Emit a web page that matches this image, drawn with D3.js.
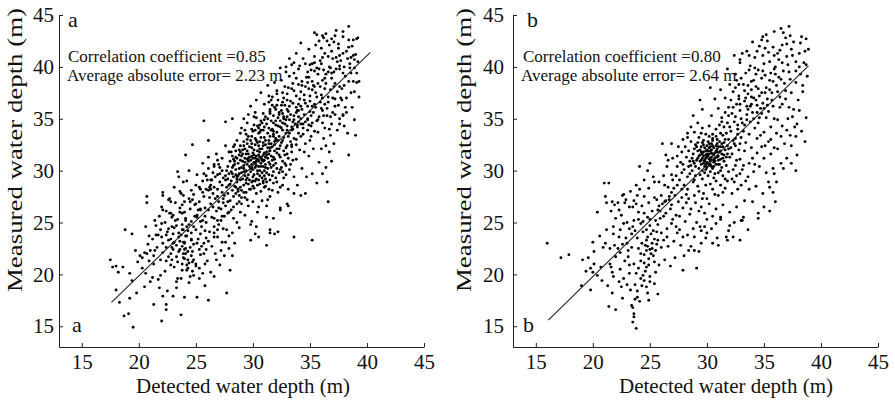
<!DOCTYPE html>
<html>
<head>
<meta charset="utf-8">
<script src="https://cdn.jsdelivr.net/npm/d3@7"></script>
<style>
body { margin: 0; background: #fff; }
svg { display: block; font-family: "Liberation Serif", "Times New Roman", serif; }
</style>
</head>
<body>
<svg id="chart" width="895" height="403"></svg>
<script>
// tick values and labels
const xTicks = [15, 20, 25, 30, 35, 40, 45];
const yTicks = [15, 20, 25, 30, 35, 40, 45];
const xTitle = "Detected water depth (m)";
const yTitle = "Measured water depth (m)";
const panelLetters = ["a", "b"];
const corrText = ["Correlation coefficient =0.85", "Correlation coefficient =0.80"];
const errText = ["Average absolute error= 2.23 m", "Average absolute error= 2.64 m"];

// fitted lines (detected, measured)
const fitA = [[17.6, 17.3], [40.3, 41.4]];
const fitB = [[16.1, 15.6], [38.9, 40.1]];

// panel a points (detected, measured)
const ptsA = [
[17.5,21.4],[17.7,20.7],[18.0,20.8],[18.6,20.7],[18.2,20.2],[18.0,18.5],[18.3,17.3],[18.7,16.0],[19.1,16.2],[19.5,14.9],
[18.8,24.3],[19.4,23.9],[19.2,20.1],[19.4,19.4],[19.2,17.7],[19.8,18.2],[19.7,22.3],[20.1,21.8],[20.3,20.6],[20.5,18.8],
[20.7,27.5],[20.7,26.9],[20.7,22.0],[21.0,22.3],[21.3,21.0],[21.2,19.7],[21.3,17.1],[22.1,27.9],[22.0,26.5],[22.1,26.2],
[20.9,23.7],[21.5,23.8],[22.0,23.6],[22.4,23.8],[22.0,15.5],[22.4,17.1],[22.4,16.6],[22.1,17.9],[21.8,18.7],[21.7,19.5],
[22.6,27.2],[22.8,27.0],[22.8,25.9],[23.1,24.5],[22.6,23.3],[23.0,23.0],[22.8,22.0],[23.3,21.7],[23.1,20.7],[23.4,19.6],
[23.3,19.3],[23.7,16.1],[23.0,17.9],[23.4,29.9],[23.5,29.4],[23.9,28.9],[23.7,27.8],[24.1,31.5],[24.7,32.5],[23.8,26.7],
[24.1,25.2],[23.8,24.3],[24.0,23.1],[23.8,22.7],[24.1,22.5],[23.9,22.0],[24.0,21.5],[23.8,21.0],[24.2,20.4],[24.5,19.8],
[24.8,19.9],[25.1,17.8],[26.1,17.5],[25.6,20.1],[25.8,21.0],[26.6,19.8],[25.7,22.0],[25.1,23.0],[25.4,23.9],[24.8,24.6],
[25.1,25.5],[25.4,26.2],[24.7,27.2],[25.3,28.4],[25.7,29.7],[25.6,30.7],[26.1,31.3],[25.7,34.8],[26.1,32.9],[26.6,30.4],
[26.9,31.0],[26.3,29.1],[26.6,28.4],[26.9,27.5],[27.0,26.4],[27.2,25.2],[26.6,24.6],[26.9,23.6],[27.3,23.1],[27.7,24.3],
[27.9,22.5],[28.2,21.8],[27.7,18.2],[28.0,20.4],[27.6,34.7],[28.2,35.0],[29.2,35.0],[28.3,32.3],[28.5,31.3],[30.1,35.2],
[30.1,34.4],[30.7,33.9],[29.8,23.3],[30.2,23.9],[30.3,24.6],[30.5,23.6],[31.2,22.8],[31.5,24.3],[31.9,23.9],[31.8,25.4],
[31.2,25.5],[32.4,26.4],[33.0,26.8],[33.3,25.9],[33.6,23.6],[35.2,23.3],[33.6,27.8],[34.2,27.6],[34.6,27.8],[33.9,28.6],
[33.6,29.4],[35.2,29.7],[36.1,29.7],[36.5,28.9],[36.9,30.9],[36.6,27.0],[35.6,28.8],[39.0,33.4],[38.4,31.5],[37.2,35.4],
[37.9,35.4],[39.3,38.6],[39.3,37.1],[38.9,37.6],[35.6,43.1],[36.4,43.2],[37.9,43.4],[38.4,43.9],[39.1,42.7],[38.8,41.1],
[38.5,40.3],[39.2,40.5],[34.2,42.3],[33.8,41.3],[37.1,42.4],[37.5,41.8],[36.0,41.8],[36.6,41.0],[35.2,40.3],[35.6,39.9],
[34.8,39.5],[33.6,39.4],[32.9,40.0],[36.1,38.7],[37.1,39.5],[38.1,39.1],[37.6,38.1],[36.8,37.8],[36.0,37.3],[35.4,38.1],
[34.3,38.2],[33.5,38.4],[32.8,38.1],[31.7,37.1],[32.1,37.4],[32.6,36.6],[33.2,36.2],[34.2,36.2],[35.2,36.2],[36.1,35.8],
[37.2,36.2],[36.8,35.2],[35.7,34.9],[34.9,34.4],[34.0,34.7],[33.4,34.2],[31.4,36.6],[31.7,36.3],[32.3,35.4],[32.7,35.0],
[22.3,25.0],[22.9,24.6],[23.4,25.3],[23.8,24.8],[24.3,24.2],[24.6,25.1],[24.2,23.7],[23.6,23.2],[24.5,22.6],[24.1,22.0],
[24.3,21.4],[23.9,21.6],[24.6,21.8],[24.8,22.9],[25.2,23.4],[25.5,24.6],[25.9,25.0],[26.2,24.1],[25.7,23.0],[26.4,22.7],
[26.0,21.3],[25.4,21.9],[25.0,20.8],[24.7,20.3],[26.8,21.4],[27.2,22.3],[26.6,23.6],[27.0,24.8],[27.5,25.6],[26.8,26.1],
[26.3,26.8],[25.8,26.4],[25.3,27.0],[25.6,27.9],[26.1,28.1],[26.7,27.3],[27.3,27.9],[27.8,27.0],[28.1,26.2],[27.6,26.6],
[28.3,25.4],[28.6,26.8],[29.0,27.4],[28.7,28.2],[28.0,28.7],[27.4,29.3],[26.9,29.6],[26.4,29.1],[25.9,29.5],[27.1,30.3],
[27.7,30.0],[28.2,29.7],[28.6,29.4],[23.6,26.4],[23.2,26.9],[22.7,27.3],[22.4,26.1],[21.8,25.6],[21.5,24.7],[21.2,23.4],
[20.8,22.9],[21.6,22.6],[22.1,22.1],[22.6,21.7],[23.0,22.4],[22.8,20.9],[22.3,20.3],[21.9,19.9],[23.7,19.6],[24.4,19.2],
[25.3,19.6],[25.8,18.9],[26.3,20.2],[27.1,20.9],[20.3,21.6],[19.9,21.2],[20.6,20.1],[21.0,19.3],[22.5,18.4],[23.3,18.7],
[24.0,17.8],[23.0,23.9],[23.5,24.0],[24.0,26.0],[24.4,27.3],[24.9,26.7],[25.1,25.7],[24.6,28.1],[23.9,27.6],[25.6,29.0],
[26.1,30.2],[25.0,28.6],[24.2,29.0],[27.9,23.7],[28.4,23.0],[28.8,24.5],[29.3,25.7],[29.6,26.6],[29.9,25.1],[30.4,26.0],
[30.8,27.1],[31.2,26.6],[30.3,27.8],[29.7,28.2],[29.2,27.9],[31.0,28.4],[31.5,27.5],[31.8,28.8],[32.2,27.9],[32.6,28.6],
[33.1,28.2],[32.9,29.6],[32.4,30.1],[33.3,30.6],[33.8,31.1],[33.0,31.6],[34.3,30.2],[34.1,32.0],[34.6,32.6],[34.9,31.4],
[35.3,32.1],[35.1,33.3],[35.7,33.7],[36.2,33.1],[36.0,32.1],[35.8,30.8],[34.7,29.4],[36.4,30.3],[36.7,31.8],[37.1,32.6],
[37.4,33.9],[36.9,34.5],[37.6,35.0],[38.0,34.3],[38.3,33.6],[38.1,36.1],[37.8,36.8],[38.6,37.5],[38.8,38.6],[39.1,39.4],
[38.5,39.9],[38.0,38.2],[37.4,37.6],[36.6,36.6],[36.3,37.9],[36.9,38.9],[37.3,39.8],[37.7,40.6],[38.2,41.5],[38.7,42.0],
[39.0,41.2],[38.4,42.6],[37.9,42.9],[37.2,43.0],[36.7,42.1],[36.3,41.3],[35.9,40.6],[35.4,41.0],[35.0,40.2],[34.7,39.0],
[35.2,38.6],[35.7,39.3],[36.2,39.7],[34.4,40.8],[34.0,39.8],[33.8,38.9],[33.4,37.9],[33.0,37.4],[32.7,37.0],[32.2,36.8],
[31.9,36.1],[31.5,35.7],[31.1,35.2],[30.7,34.8],[30.4,34.3],[30.0,33.8],[29.6,33.3],[29.2,32.8],[28.9,32.4],[28.5,31.9],
[28.2,31.4],[28.0,30.9],[27.8,30.4],[29.0,34.1],[29.5,34.6],[30.2,35.6],[31.0,36.4],[31.4,37.2],[32.1,37.7],[32.5,38.7],
[33.2,39.1],[33.6,40.4],[34.5,37.3],[35.0,36.7],[35.5,37.5],[36.0,36.0],[36.5,35.3],[37.0,35.6],[35.3,35.6],[34.8,35.0],
[34.2,34.5],[33.9,35.8],[33.5,36.5],[33.0,35.9],[32.6,35.5],[34.1,36.9],[34.6,38.1],[35.1,34.3],[35.6,34.8],[36.3,34.1],
[36.8,33.4],[34.4,33.5],[33.8,33.0],[33.4,32.3],[33.0,33.9],[32.4,34.2],[31.8,33.5],[32.0,34.8],[33.6,34.9],[34.8,33.9],
[28.2,28.1],[28.9,28.4],[29.4,27.9],[30.1,28.3],[30.7,28.0],[31.4,28.2],[27.9,28.6],[28.6,28.9],[29.1,29.2],[29.6,28.7],
[30.2,29.0],[30.9,28.8],[31.5,29.1],[32.1,28.9],[28.3,29.4],[28.8,29.7],[29.3,29.5],[29.8,29.9],[30.0,29.4],[30.4,29.7],
[30.8,29.3],[31.2,29.8],[31.7,29.5],[32.3,29.8],[28.5,30.1],[29.0,30.3],[29.4,30.0],[29.7,30.4],[30.0,30.1],[30.3,30.5],
[30.6,30.0],[30.9,30.4],[31.3,30.2],[31.8,30.5],[32.5,30.3],[28.7,30.7],[29.1,30.9],[29.5,30.6],[29.8,31.0],[30.1,30.8],
[30.4,31.1],[30.7,30.7],[31.0,31.0],[31.4,30.8],[31.9,31.1],[32.6,30.9],[29.0,31.4],[29.4,31.6],[29.7,31.3],[30.0,31.7],
[30.3,31.4],[30.6,31.8],[30.9,31.5],[31.2,31.8],[31.6,31.4],[32.1,31.7],[32.8,31.5],[29.3,32.1],[29.7,32.3],[30.1,32.0],
[30.5,32.4],[30.8,32.1],[31.1,32.5],[31.5,32.2],[31.9,32.5],[32.3,32.1],[33.0,32.4],[29.8,32.9],[30.2,33.1],[30.6,32.8],
[31.0,33.2],[31.4,32.9],[31.8,33.3],[32.2,32.9],[32.7,33.2],[33.3,32.8],[30.5,33.6],[30.9,33.9],[31.3,33.6],[31.7,34.0],
[32.1,33.7],[32.5,34.1],[32.9,33.6],[33.5,34.0],[31.2,34.5],[31.6,34.8],[32.0,34.4],[32.4,34.8],[32.8,34.5],[33.2,34.9],
[33.7,34.5],[34.2,35.0],[31.8,35.3],[32.3,35.6],[32.7,35.2],[33.1,35.7],[33.6,35.3],[34.0,35.8],[34.5,35.4],
[29.9,30.6],[30.2,30.3],[30.5,30.9],[30.0,31.2],[30.4,30.0],[29.6,29.6],[30.7,31.3],[31.1,30.6],[29.2,30.5],[30.8,29.8],
[31.0,30.0],[29.5,31.1],[30.1,29.6],[30.3,29.2],[29.7,29.1],[30.6,29.5],[31.3,31.2],[31.5,31.9],[30.9,32.7],[31.6,32.6],
[32.0,32.9],[31.7,31.0],[32.0,30.7],[32.4,31.3],[31.0,29.5],[28.9,29.1],[29.2,29.9],[28.6,29.2],[31.8,29.9],[32.7,29.3],
[33.2,30.1],[33.5,31.0],[32.9,30.5],[33.4,31.8],[33.8,32.5],[34.2,33.3],[33.9,34.2],[34.4,34.5],[34.8,34.9],[35.1,35.3],
[35.5,36.1],[35.9,36.6],[30.4,32.7],[29.5,32.6],[29.1,32.0],[28.8,31.5],[28.4,30.9],[28.2,30.3],[27.9,29.7],[27.6,29.1],
[28.1,31.8],[28.6,32.9],[29.4,33.5],[29.9,34.0],[30.6,34.4],[31.0,34.9],[30.3,35.1],[29.6,35.4],[31.5,35.9],[32.5,36.3],
[33.3,36.7],[27.3,28.6],[26.9,28.2],[27.5,27.6],[28.0,27.1],[28.5,27.8],[29.0,26.8],[29.5,27.2],[30.0,27.0],[30.5,26.5],
[31.3,27.2],[29.8,24.8],[28.6,25.0],[31.5,24.0],[32.2,24.1],[33.1,26.6],[32.4,26.2],[27.2,26.3],[27.7,28.4],[26.5,27.8],
[26.2,27.4],[25.9,28.2],[25.4,26.3],[24.9,25.6],[24.4,24.8],[23.9,24.3],[23.5,23.6],[23.1,23.1],[24.6,23.4],[25.3,22.4],
[25.8,24.2],[26.4,25.5],[26.9,25.2],[27.4,24.4],[26.7,22.0],[27.6,23.1],[28.2,24.0],[28.9,26.0],[27.5,21.8],[25.0,21.0],
[24.3,20.6],[23.8,20.4],[23.4,21.2],[22.9,21.4],[22.1,23.0],[21.7,23.8],[21.3,21.8],[20.9,21.3],[20.5,22.1],[22.6,24.4],
[22.0,24.9],[23.3,24.7],[22.4,22.6],[23.6,22.4],[24.0,23.0],[24.4,21.1],[24.0,22.4],[24.7,22.2],[25.9,22.4],[26.6,24.0],
[25.2,26.2],[24.1,25.4],[23.0,25.7],[22.1,27.6],[23.1,28.4],[23.6,28.0],[24.5,27.0],[25.7,27.5],[26.3,28.6],[26.0,29.1],
[25.1,29.6],[24.4,30.0],[26.6,30.6],[27.3,31.2],[27.9,31.8],[28.4,32.5],[28.9,33.6],[27.6,32.4],[26.8,31.6],[36.6,37.1],
[37.2,38.4],[37.9,39.4],[38.3,40.8],[36.7,40.0],[36.1,40.9],[35.5,42.1],[34.9,41.7],[36.9,42.7],[37.5,42.2],[38.9,40.7],
[39.2,42.8],[33.2,40.8],[32.9,39.5],[32.4,39.9],[31.9,38.5],[31.3,38.2],[30.7,37.5],[30.3,36.8],[29.8,36.2],[31.6,36.8],
[32.8,36.3],[33.8,37.2],[34.3,38.6],[34.9,37.9],[35.4,39.6],[36.4,38.4],[37.0,37.0],[37.5,36.3],[38.2,37.0],[38.7,36.1],
[38.9,34.9],[37.9,35.3],[36.5,36.0],[35.8,35.2],[35.2,34.6],[36.2,35.3],[34.0,36.4],[36.9,41.5],[37.6,41.1],
[28.4,28.5],[28.7,28.0],[29.2,28.6],[29.8,28.2],[30.4,28.6],[31.1,28.5],[31.7,28.1],[32.4,28.4],[28.1,29.0],[28.5,29.6],
[29.0,29.8],[29.5,29.3],[29.9,28.9],[30.5,29.1],[31.1,29.2],[31.4,29.6],[32.0,29.3],[32.6,29.9],[28.3,30.5],[28.8,30.2],
[29.2,30.2],[29.6,30.9],[29.9,30.3],[30.2,30.7],[30.5,30.4],[30.8,31.1],[31.1,30.3],[31.5,30.6],[32.1,30.2],[32.8,30.7],
[28.6,31.2],[28.9,31.0],[29.3,31.2],[29.6,31.6],[29.9,31.4],[30.2,31.2],[30.5,31.5],[30.8,31.0],[31.1,31.3],[31.4,31.6],
[31.8,31.3],[32.3,31.5],[33.1,31.2],[28.8,32.0],[29.2,32.4],[29.5,31.9],[29.9,32.2],[30.2,32.5],[30.6,32.1],[30.9,32.4],
[31.3,32.2],[31.7,32.3],[32.1,32.1],[32.5,32.7],[32.9,32.2],[33.4,32.5],[29.5,33.0],[29.9,33.3],[30.3,32.9],[30.7,33.2],
[31.1,32.9],[31.5,33.3],[31.9,32.8],[32.3,33.3],[32.6,32.9],[33.1,33.3],[33.6,33.1],[34.0,33.6],[30.2,33.9],[30.6,33.7],
[31.0,34.2],[31.4,34.1],[31.8,33.8],[32.2,34.3],[32.6,33.9],[33.0,34.3],[33.4,33.9],[33.9,34.4],[34.4,34.1],[30.8,34.6],
[31.3,35.0],[31.8,34.6],[32.2,35.1],[32.6,34.6],[33.0,35.2],[33.5,34.7],[34.0,35.2],[34.6,34.7],[35.0,35.7],[31.5,35.5],
[32.0,35.9],[32.5,35.8],[33.3,35.4],[33.8,35.6],[34.3,35.9],[34.8,36.2],[35.4,36.4],[27.4,27.3],[27.8,27.8],[28.3,27.5],
[28.8,27.6],[29.3,27.4],[27.1,28.9],[27.6,29.5],[27.3,30.0],[27.0,30.6],[26.7,29.4],[26.3,28.2],[29.0,28.1],[30.0,28.5],
[30.6,28.7],[31.2,28.9],[29.4,28.8],[28.5,28.4],[27.8,29.2],[28.1,29.9],[28.4,30.6],[28.9,31.8],[28.3,31.1],[34.5,36.8],
[35.0,37.2],[35.6,37.1],[36.1,37.0],[35.9,38.1],[35.3,38.2],[34.8,38.5],[34.2,37.6],[33.6,37.7],[33.1,38.0],[32.6,37.5],
[36.4,39.3],[35.8,39.8],[35.1,39.7],[34.6,40.3],[34.1,40.1],[33.4,40.2],[36.8,39.9],[37.4,40.5],[37.9,41.3],[38.4,41.9],
[37.0,40.8],[36.5,42.5],[36.2,42.8],[35.8,42.5],[35.4,43.3],[37.6,39.8],[38.6,40.9],[37.7,37.0],[38.4,38.6],[37.1,38.1],
[36.3,36.4],[37.2,36.9],[37.8,37.9],[38.9,39.9],[39.1,38.5],[38.2,35.6],[36.7,34.0],[36.1,34.6],[35.4,33.8],[35.0,32.9],
[34.5,31.8],[36.4,32.4],[37.6,34.5],[22.5,24.1],[22.9,25.5],[23.3,22.8],[23.7,23.8],[24.2,24.6],[24.6,24.0],[25.0,24.3],
[25.4,25.1],[25.8,25.6],[26.1,26.2],[26.5,26.5],[27.0,27.0],[27.4,26.9],[27.8,25.9],[28.3,26.5],[28.8,27.0],[25.6,25.2],
[25.0,26.8],[24.5,26.3],[24.0,27.0],[23.6,26.0],[23.2,25.2],[22.7,25.9],[24.3,22.2],[24.8,21.4],[25.5,22.7],[26.1,23.2],
[26.9,24.3],[27.3,25.6],[27.9,26.0],[24.6,23.3],[25.9,23.5],[24.2,20.9],[24.7,21.2],[25.3,20.6],[23.9,23.1],[24.1,23.7],
[23.5,22.2],[22.9,22.6],[22.4,21.3],[21.9,21.4],[21.4,22.3],[22.8,23.4],[23.8,25.9],[26.6,25.4],[26.2,28.4],[26.5,29.8],
[27.1,29.7],[25.4,28.2],[24.8,27.7],[21.9,24.3],[21.4,25.2],[20.6,24.6],
[29.3,30.8],[29.8,30.2],[30.3,30.9],[30.6,31.3],[30.1,31.5],[29.6,31.2],[30.9,30.9],[31.2,31.5],[31.6,30.3],[30.7,30.4],
[29.9,32.6],[30.4,31.9],[31.0,31.7],[31.4,32.6],[31.9,31.9],[32.4,32.4],[32.7,31.9],[33.2,33.6],[32.0,33.1],[31.6,33.9],
[29.4,29.1],[30.0,29.0],[30.9,29.0],[28.7,29.5],[29.1,31.6],[32.9,34.9],[33.8,36.1],[34.6,36.5],[35.2,37.8],[35.7,38.4],
[36.3,38.9],[36.9,39.4],[37.3,40.9],[33.0,36.8],[32.1,36.3],[30.9,35.5],[30.5,34.1],[29.3,33.9],[34.0,38.3],[34.9,39.0],
[35.4,40.4],[36.0,40.3],[36.6,39.5],[37.6,40.1],[38.0,40.0],[38.6,39.4],[38.8,42.6],[37.3,43.5],[36.1,43.0]
];

// panel b points (detected, measured)
const ptsB = [
[16.0,23.0],[17.2,21.6],[17.9,21.9],[19.1,21.4],[19.0,18.9],[19.8,18.5],[20.0,23.1],[20.1,22.2],[19.8,20.6],[20.0,20.2],
[20.4,26.0],[20.7,20.7],[21.0,28.8],[21.4,28.8],[21.1,27.5],[21.1,23.0],[21.3,18.9],[21.4,16.9],[21.7,27.0],[21.8,24.6],
[21.8,23.9],[21.6,20.7],[21.7,20.2],[21.8,19.8],[22.0,16.6],[21.7,18.2],[22.3,26.2],[22.2,22.5],[22.4,22.1],[22.5,18.8],
[22.6,17.7],[22.7,27.7],[22.9,27.2],[23.0,23.0],[23.1,21.7],[23.2,20.9],[23.2,20.1],[23.3,18.5],[23.4,17.0],[23.6,16.2],
[23.6,15.9],[23.5,15.4],[23.8,14.8],[23.9,17.8],[24.1,17.4],[23.8,20.1],[24.2,22.0],[24.4,19.9],[24.5,19.4],[24.7,20.7],
[24.8,18.2],[24.9,17.5],[25.0,19.3],[24.1,30.4],[25.0,30.7],[24.8,30.0],[26.1,32.6],[26.4,31.5],[26.6,31.0],[25.4,28.9],
[23.3,28.0],[23.8,28.6],[24.5,29.1],[23.8,26.8],[24.0,26.0],[23.6,25.2],[24.2,24.9],[24.7,24.3],[25.1,23.9],[24.7,23.3],
[24.8,22.7],[25.2,22.5],[25.5,22.3],[25.1,22.0],[25.7,23.3],[25.5,25.2],[25.7,26.2],[26.1,26.8],[26.7,27.2],[26.4,25.9],
[26.9,24.9],[27.3,24.6],[27.6,24.3],[27.9,23.6],[27.9,20.4],[29.1,20.6],[28.9,22.3],[29.5,23.0],[29.9,23.5],[30.5,23.0],
[30.9,23.5],[31.7,23.6],[31.8,23.3],[32.9,23.3],[29.8,24.6],[30.4,24.4],[30.8,24.9],[31.2,25.5],[32.0,24.7],[33.0,25.2],
[33.1,25.2],[34.5,25.4],[35.0,26.5],[35.8,27.9],[35.5,28.4],[36.1,28.9],[35.9,29.7],[36.7,30.2],[37.4,30.7],[37.8,30.0],
[38.6,32.8],[37.8,33.3],[37.9,34.5],[37.5,35.2],[38.1,35.8],[38.4,38.2],[38.7,40.2],[38.9,41.7],[38.7,42.7],[38.3,42.9],
[37.2,43.9],[36.5,43.7],[35.9,43.4],[35.2,43.1],[34.9,42.9],[34.0,42.4],[33.7,41.1],[33.1,41.3],[32.9,40.7],[32.4,41.1],
[29.6,31.2],[29.9,31.5],[30.2,31.1],[30.5,31.6],[29.7,31.8],[30.0,32.0],[30.3,31.9],[30.6,32.2],[29.4,31.5],[29.8,30.9],
[30.1,30.7],[30.4,31.3],[30.7,30.9],[31.0,31.4],[31.2,31.9],[30.8,32.4],[30.4,32.6],[29.5,32.3],[29.2,31.9],[29.1,31.0],
[29.5,30.6],[30.0,30.3],[30.6,30.4],[31.1,30.6],[31.4,31.2],[31.6,32.0],[31.3,32.6],[30.9,33.0],[30.1,32.8],[29.7,32.9],
[29.0,32.5],[28.8,31.6],[28.9,30.7],[29.3,30.2],[30.3,29.9],[31.0,29.8],[31.7,30.5],[32.0,31.3],[32.1,32.2],[31.9,33.0],
[31.4,33.4],[30.5,33.5],[29.9,33.5],[29.3,33.2],[28.6,32.8],[28.4,31.9],[28.5,30.9],[28.7,30.0],[29.4,29.6],[30.6,29.3],
[31.4,29.5],[32.3,30.1],[32.6,31.0],[32.8,32.0],[32.5,33.1],[32.1,33.8],[31.5,34.2],[30.8,34.0],[30.2,34.3],[29.6,34.1],
[28.9,33.7],[30.0,31.3],[30.3,30.6],[29.8,30.4],[30.9,31.8],[30.7,31.2],[29.6,30.0],[31.2,31.1],[31.5,30.9],[31.8,31.6],
[31.2,32.3],[30.5,32.9],[31.6,33.0],[32.4,32.6],[33.0,33.2],[32.7,34.0],[33.3,34.4],[33.0,35.0],[32.4,34.7],[31.8,34.6],
[31.3,35.1],[32.2,35.5],[32.9,35.8],[33.5,35.4],[33.8,36.2],[33.3,36.7],[32.6,36.4],[31.9,36.1],[34.1,37.0],[33.6,37.4],
[32.8,37.2],[32.3,37.6],[34.4,36.3],[34.0,35.6],[34.6,35.1],[35.0,36.0],[35.3,36.9],[34.8,37.5],[34.3,38.1],[33.9,38.6],
[33.2,38.3],[32.6,38.7],[35.5,37.8],[35.8,38.6],[35.1,39.2],[34.5,39.7],[33.8,40.1],[33.4,39.4],[36.3,39.0],[36.0,40.0],
[35.5,40.5],[34.9,41.1],[36.6,40.4],[37.0,41.0],[37.4,41.7],[37.8,40.5],[37.2,39.5],[36.8,38.4],[36.2,37.6],[35.7,36.8],
[35.4,35.7],[35.9,35.0],[36.4,36.1],[36.9,36.9],[37.4,37.5],[37.8,38.5],[38.2,39.3],[38.5,40.4],[38.1,41.3],[37.6,42.4],
[36.9,42.8],[36.4,41.6],[35.8,41.9],[35.3,42.5],[34.6,42.0],[38.6,41.5],[38.0,36.8],[37.6,35.9],[37.1,35.0],[36.6,34.3],
[36.1,33.6],[35.6,33.0],[35.1,32.4],[34.7,33.4],[34.2,34.1],[33.7,33.5],[33.4,32.7],[33.9,32.2],[34.4,31.7],[35.0,31.2],
[35.6,31.6],[36.2,32.1],[36.8,32.6],[37.3,33.4],[37.7,34.2],[37.0,31.2],[36.5,30.7],[35.8,30.2],[35.2,29.8],[34.6,30.4],
[34.1,29.9],[33.6,29.4],[33.2,30.5],[32.9,29.7],[32.4,28.9],[33.0,28.6],[33.7,28.2],[34.3,28.5],[34.9,27.8],[35.4,28.9],
[32.2,27.8],[31.6,28.3],[31.0,27.6],[30.5,28.2],[29.9,28.6],[29.3,28.0],[28.8,28.9],[28.3,29.4],[27.8,29.8],[27.4,30.4],
[27.0,29.1],[26.6,28.4],[27.2,27.6],[27.8,28.2],[28.4,27.3],[29.0,26.9],[29.6,27.3],[30.2,26.8],[30.8,26.3],[31.4,26.7],
[32.0,26.0],[32.6,26.5],[33.3,27.1],[31.2,25.3],[30.5,25.6],[29.8,25.9],[29.1,25.0],[28.5,25.8],[27.9,26.4],[27.3,25.7],
[26.8,26.3],[26.2,25.6],[25.7,24.8],[26.0,24.0],[26.5,23.6],[27.1,23.2],[27.7,22.8],[28.3,23.8],[28.8,24.4],[28.2,26.9],
[27.5,27.0],[26.9,27.9],[26.3,27.0],[25.8,26.6],[25.4,27.4],[24.9,26.9],[24.5,27.5],[24.1,28.2],[23.6,27.1],[23.2,26.5],
[22.8,26.9],[22.5,25.7],[23.0,25.0],[23.5,24.6],[24.0,25.3],[24.5,25.9],[25.0,25.3],[25.3,24.2],[24.8,23.6],[24.4,24.1],
[23.9,23.5],[23.4,23.9],[22.9,23.5],[22.4,24.3],[22.0,25.4],[21.6,26.1],[21.9,26.7],[24.6,22.8],[25.0,22.4],[25.3,21.8],
[24.9,21.5],[24.5,21.9],[25.2,23.0],[24.3,23.0],[25.6,22.9],[26.0,22.6],[26.3,21.4],[25.8,20.9],[25.5,20.2],[25.0,19.8],
[24.6,20.3],[24.2,19.6],[23.7,19.0],[23.9,18.4],[24.3,18.9],[22.8,21.3],[22.4,20.5],[22.0,21.7],[21.5,22.5],[21.9,22.8],
[22.6,22.9],[23.1,22.3],[23.6,21.0],[22.7,19.6],[23.0,19.0],[22.3,19.3],[21.5,21.0],[20.9,22.6],[20.6,23.7],[21.2,24.3],
[20.4,19.9],[20.1,21.0],[19.6,21.6],[19.4,20.3],[20.8,19.4],[27.5,32.3],[27.9,33.0],[28.3,33.6],[27.0,31.2],[26.5,30.4],
[26.2,29.5],[25.8,28.9],[25.3,29.4],[24.9,28.3],[26.9,32.6],[28.6,34.2],[29.2,34.6],[28.8,35.3],[29.6,35.9],[30.4,35.3],
[31.0,36.0],[30.7,36.9],[31.6,37.0],[31.2,37.8],[32.0,38.3],[32.5,39.3],[31.8,39.8],[30.3,38.0],[29.4,36.8],[32.9,40.4],
[33.5,41.5],[34.2,40.9],[36.7,43.3],[37.3,43.0],[38.2,42.3],[38.8,39.1],[38.4,37.6],[38.7,35.1],[37.4,32.4],[37.9,31.5],
[38.3,33.8],[36.0,27.0],[35.5,26.1],[34.0,27.0],[34.5,25.9],[33.2,25.5],[32.4,25.0],[33.6,24.3],[31.9,24.2],[30.0,24.0],
[29.4,24.6],[28.6,22.7],[28.0,21.8],[29.3,22.2],[31.0,22.8],[32.3,23.6],[27.2,21.6],[26.8,20.8],
[29.8,31.0],[30.1,31.4],[30.4,31.0],[29.9,31.9],[30.3,32.3],[30.6,31.5],[29.5,31.0],[30.2,30.5],[30.8,30.6],[29.7,32.5],
[30.9,32.1],[29.3,31.4],[30.0,31.6],[30.5,30.2],[31.3,31.6],[31.1,32.8],[31.8,32.4],[32.2,31.6],[32.5,32.4],[31.7,33.6],
[29.9,31.2],[30.0,30.8],[30.3,31.2],[30.1,31.9],[29.6,31.6],[30.4,31.7],[30.7,31.7],[30.2,32.2],[29.8,32.2],[30.5,32.4],
[29.4,32.0],[29.2,31.2],[29.7,30.7],[30.6,30.8],[31.0,31.0],[30.9,31.3],[29.9,30.1],[30.4,30.4],[31.0,32.3],[30.2,32.6],
[29.6,32.7],[29.2,32.7],[28.9,32.1],[28.7,31.2],[29.0,30.4],[31.3,30.3],[31.5,31.5],[31.1,31.8],[31.9,32.1],[32.3,32.9],
[31.5,32.7],[30.8,33.3],[30.2,33.3],[29.5,33.6],[31.2,33.6],[32.0,34.2],[32.7,33.5],[33.2,33.8],[32.9,32.6],[33.3,31.9],
[32.9,31.1],[32.5,30.5],[31.9,29.9],[31.6,29.2],[30.8,29.0],[30.1,29.5],[29.6,29.2],[29.0,29.5],[28.4,30.4],[28.2,31.3],
[28.1,32.3],[28.3,33.2],[27.8,31.8],[27.7,30.8],[28.0,30.1],[27.4,31.4],[32.1,36.8],[32.8,36.9],[33.5,36.2],[33.9,37.1],
[34.5,37.9],[34.1,38.7],[33.6,38.2],[33.0,38.9],[32.5,38.0],[34.8,38.9],[35.2,38.0],[35.6,39.4],[35.0,40.3],[34.3,39.3],
[33.7,39.7],[36.1,38.2],[36.7,39.6],[36.3,40.7],[35.9,41.1],[35.4,41.4],[34.8,42.6],[37.1,40.2],[37.3,38.8],[37.8,39.6],
[37.5,41.1],[38.1,40.0],[36.9,37.7],[36.4,37.1],[35.7,37.5],[34.9,36.5],[34.4,35.6],[33.8,34.7],[34.5,34.6],[35.2,35.1],
[35.8,36.2],[36.6,36.4],[37.2,36.1],[36.2,34.9],[35.6,34.2],[35.0,33.7],[34.4,33.1],[34.8,32.3],[35.4,32.8],[35.9,32.2],
[36.5,33.3],[37.0,33.9],[34.0,31.2],[33.7,30.7],[34.2,30.6],[33.4,29.0],[32.7,28.2],[32.2,29.2],[31.4,27.9],[30.7,27.7],
[30.0,27.3],[29.5,26.5],[28.9,27.6],[28.3,28.2],[27.8,27.4],[27.4,28.6],[26.9,29.6],[26.3,28.6],[26.0,27.6],[25.6,27.2],
[25.2,26.1],[24.8,25.5],[24.3,26.6],[23.9,27.6],[25.9,25.4],[26.5,24.4],[27.0,25.3],[27.6,25.6],[28.1,25.1],[28.6,26.3],
[29.3,26.1],[30.0,25.3],[29.5,24.2],[28.9,23.6],[28.4,22.3],[27.4,24.0],[26.6,22.7],[26.2,23.3],[25.6,24.1],[25.0,24.7],
[24.4,25.1],[23.7,24.2],[23.2,24.4],[22.7,24.9],[22.3,23.6],[24.0,22.5],[24.7,22.3],[25.4,23.4],[24.2,21.3],[24.9,20.9],
[25.4,21.2],[24.5,21.1],[24.0,20.6],[23.4,22.6],[22.2,26.9],[22.6,27.6],[23.5,26.5],[21.2,26.9],[25.4,19.1],[24.7,18.8],
[25.7,18.1],[23.7,17.6],[23.5,16.8],
[31.1,34.4],[31.6,35.6],[32.3,36.1],[32.9,36.4],[33.4,37.0],[33.9,37.8],[34.3,36.8],[34.7,36.0],[33.6,35.9],[33.1,34.6],
[32.5,35.2],[31.9,35.3],[31.3,34.7],[32.7,34.4],[33.5,34.9],[34.1,35.0],[34.6,37.2],[35.1,37.5],[35.5,38.7],[34.9,39.6],
[34.2,39.9],[33.3,37.7],[32.8,38.3],[36.0,39.3],[36.5,38.8],[35.9,39.8],[36.2,41.3],[35.1,41.8],[34.4,41.5],[37.0,42.2],
[36.6,42.1],[33.9,36.4],[34.8,35.5],[35.3,36.3],[30.2,31.6],[29.9,30.6],[30.6,31.0],[30.0,32.4],[30.8,31.9],[29.5,31.8],
[30.4,32.0],[31.0,30.6],[29.7,31.4],[30.3,30.9],[30.9,32.6],[29.4,30.9],[30.5,33.1],[31.4,32.3],[31.7,31.3],[29.1,32.3],
[28.8,30.9],[31.2,30.0],[29.8,29.8],[30.7,29.7],[27.1,28.3],[27.6,29.1],[28.0,28.6],[28.5,29.7],[28.9,29.1],[29.2,28.5],
[27.3,29.5],[26.7,27.5],[27.9,30.6],[28.6,30.5],[26.4,27.1],[25.9,26.1],[26.9,26.7],[28.2,27.7],[29.7,27.8],[30.3,28.7],
[31.2,28.6],[31.8,29.0],[32.6,29.5],[33.1,30.1]
];

const svg = d3.select('#chart');

// both panels share the scales domain, only the pixel offsets differ
const panels = [
    { pts: ptsA, fit: fitA, left: 59, right: 424, pad: 5, yTitleX: 21.5, xTitleX: 243, corrX: 68, errX: 67, topLetterX: 68, botLetterX: 72 },
    { pts: ptsB, fit: fitB, left: 513, right: 878, pad: 9, yTitleX: 471, xTitleX: 726, corrX: 523, errX: 521, topLetterX: 527, botLetterX: 523 }
];

const plotTop = 15;
const plotBottom = 347;
const ink = '#111';

panels.forEach(function(p, k) {
    const x = d3.scaleLinear().domain([13, 45]).range([p.left, p.right]);
    const y = d3.scaleLinear().domain([13, 45]).range([plotBottom, plotTop]);
    const g = svg.append('g');

    // axes, ticks point inward
    const xAxis = g.append('g')
        .attr('transform', 'translate(0,' + plotBottom + ')')
        .call(d3.axisBottom(x).tickValues(xTicks).tickSizeInner(-4).tickSizeOuter(0).tickPadding(7));
    const yAxis = g.append('g')
        .attr('transform', 'translate(' + p.left + ',0)')
        .call(d3.axisLeft(y).tickValues(yTicks).tickSizeInner(-4).tickSizeOuter(0).tickPadding(p.pad));

    [xAxis, yAxis].forEach(function(a) {
        a.attr('font-size', 21).attr('font-family', null);
        a.selectAll('text').attr('fill', ink);
        a.selectAll('line').attr('stroke', '#222');
        a.select('.domain').attr('stroke', '#222');
    });

    // points
    g.append('g').selectAll('circle')
        .data(p.pts)
        .join('circle')
        .attr('cx', d => x(d[0]))
        .attr('cy', d => y(d[1]))
        .attr('r', 1.45)
        .attr('fill', '#000');

    // fitted line
    g.append('line')
        .attr('x1', x(p.fit[0][0])).attr('y1', y(p.fit[0][1]))
        .attr('x2', x(p.fit[1][0])).attr('y2', y(p.fit[1][1]))
        .attr('stroke', '#222')
        .attr('stroke-width', 1.1);

    // titles
    g.append('text')
        .attr('x', p.xTitleX).attr('y', 393)
        .attr('text-anchor', 'middle')
        .attr('font-size', 21)
        .attr('fill', ink)
        .text(xTitle);

    g.append('text')
        .attr('transform', 'translate(' + p.yTitleX + ',150) rotate(-90)')
        .attr('text-anchor', 'middle')
        .attr('font-size', 21)
        .attr('textLength', 284)
        .attr('lengthAdjust', 'spacingAndGlyphs')
        .attr('fill', ink)
        .text(yTitle);

    // statistics
    g.append('text')
        .attr('x', p.corrX).attr('y', 62)
        .attr('font-size', 17)
        .attr('fill', ink)
        .text(corrText[k]);
    g.append('text')
        .attr('x', p.errX).attr('y', 81)
        .attr('font-size', 17)
        .attr('fill', ink)
        .text(errText[k]);

    // panel letters
    g.append('text')
        .attr('x', p.topLetterX).attr('y', 27)
        .attr('font-size', 22)
        .attr('fill', ink)
        .text(panelLetters[k]);
    g.append('text')
        .attr('x', p.botLetterX).attr('y', 332)
        .attr('font-size', 22)
        .attr('fill', ink)
        .text(panelLetters[k]);
});
</script>
</body>
</html>
